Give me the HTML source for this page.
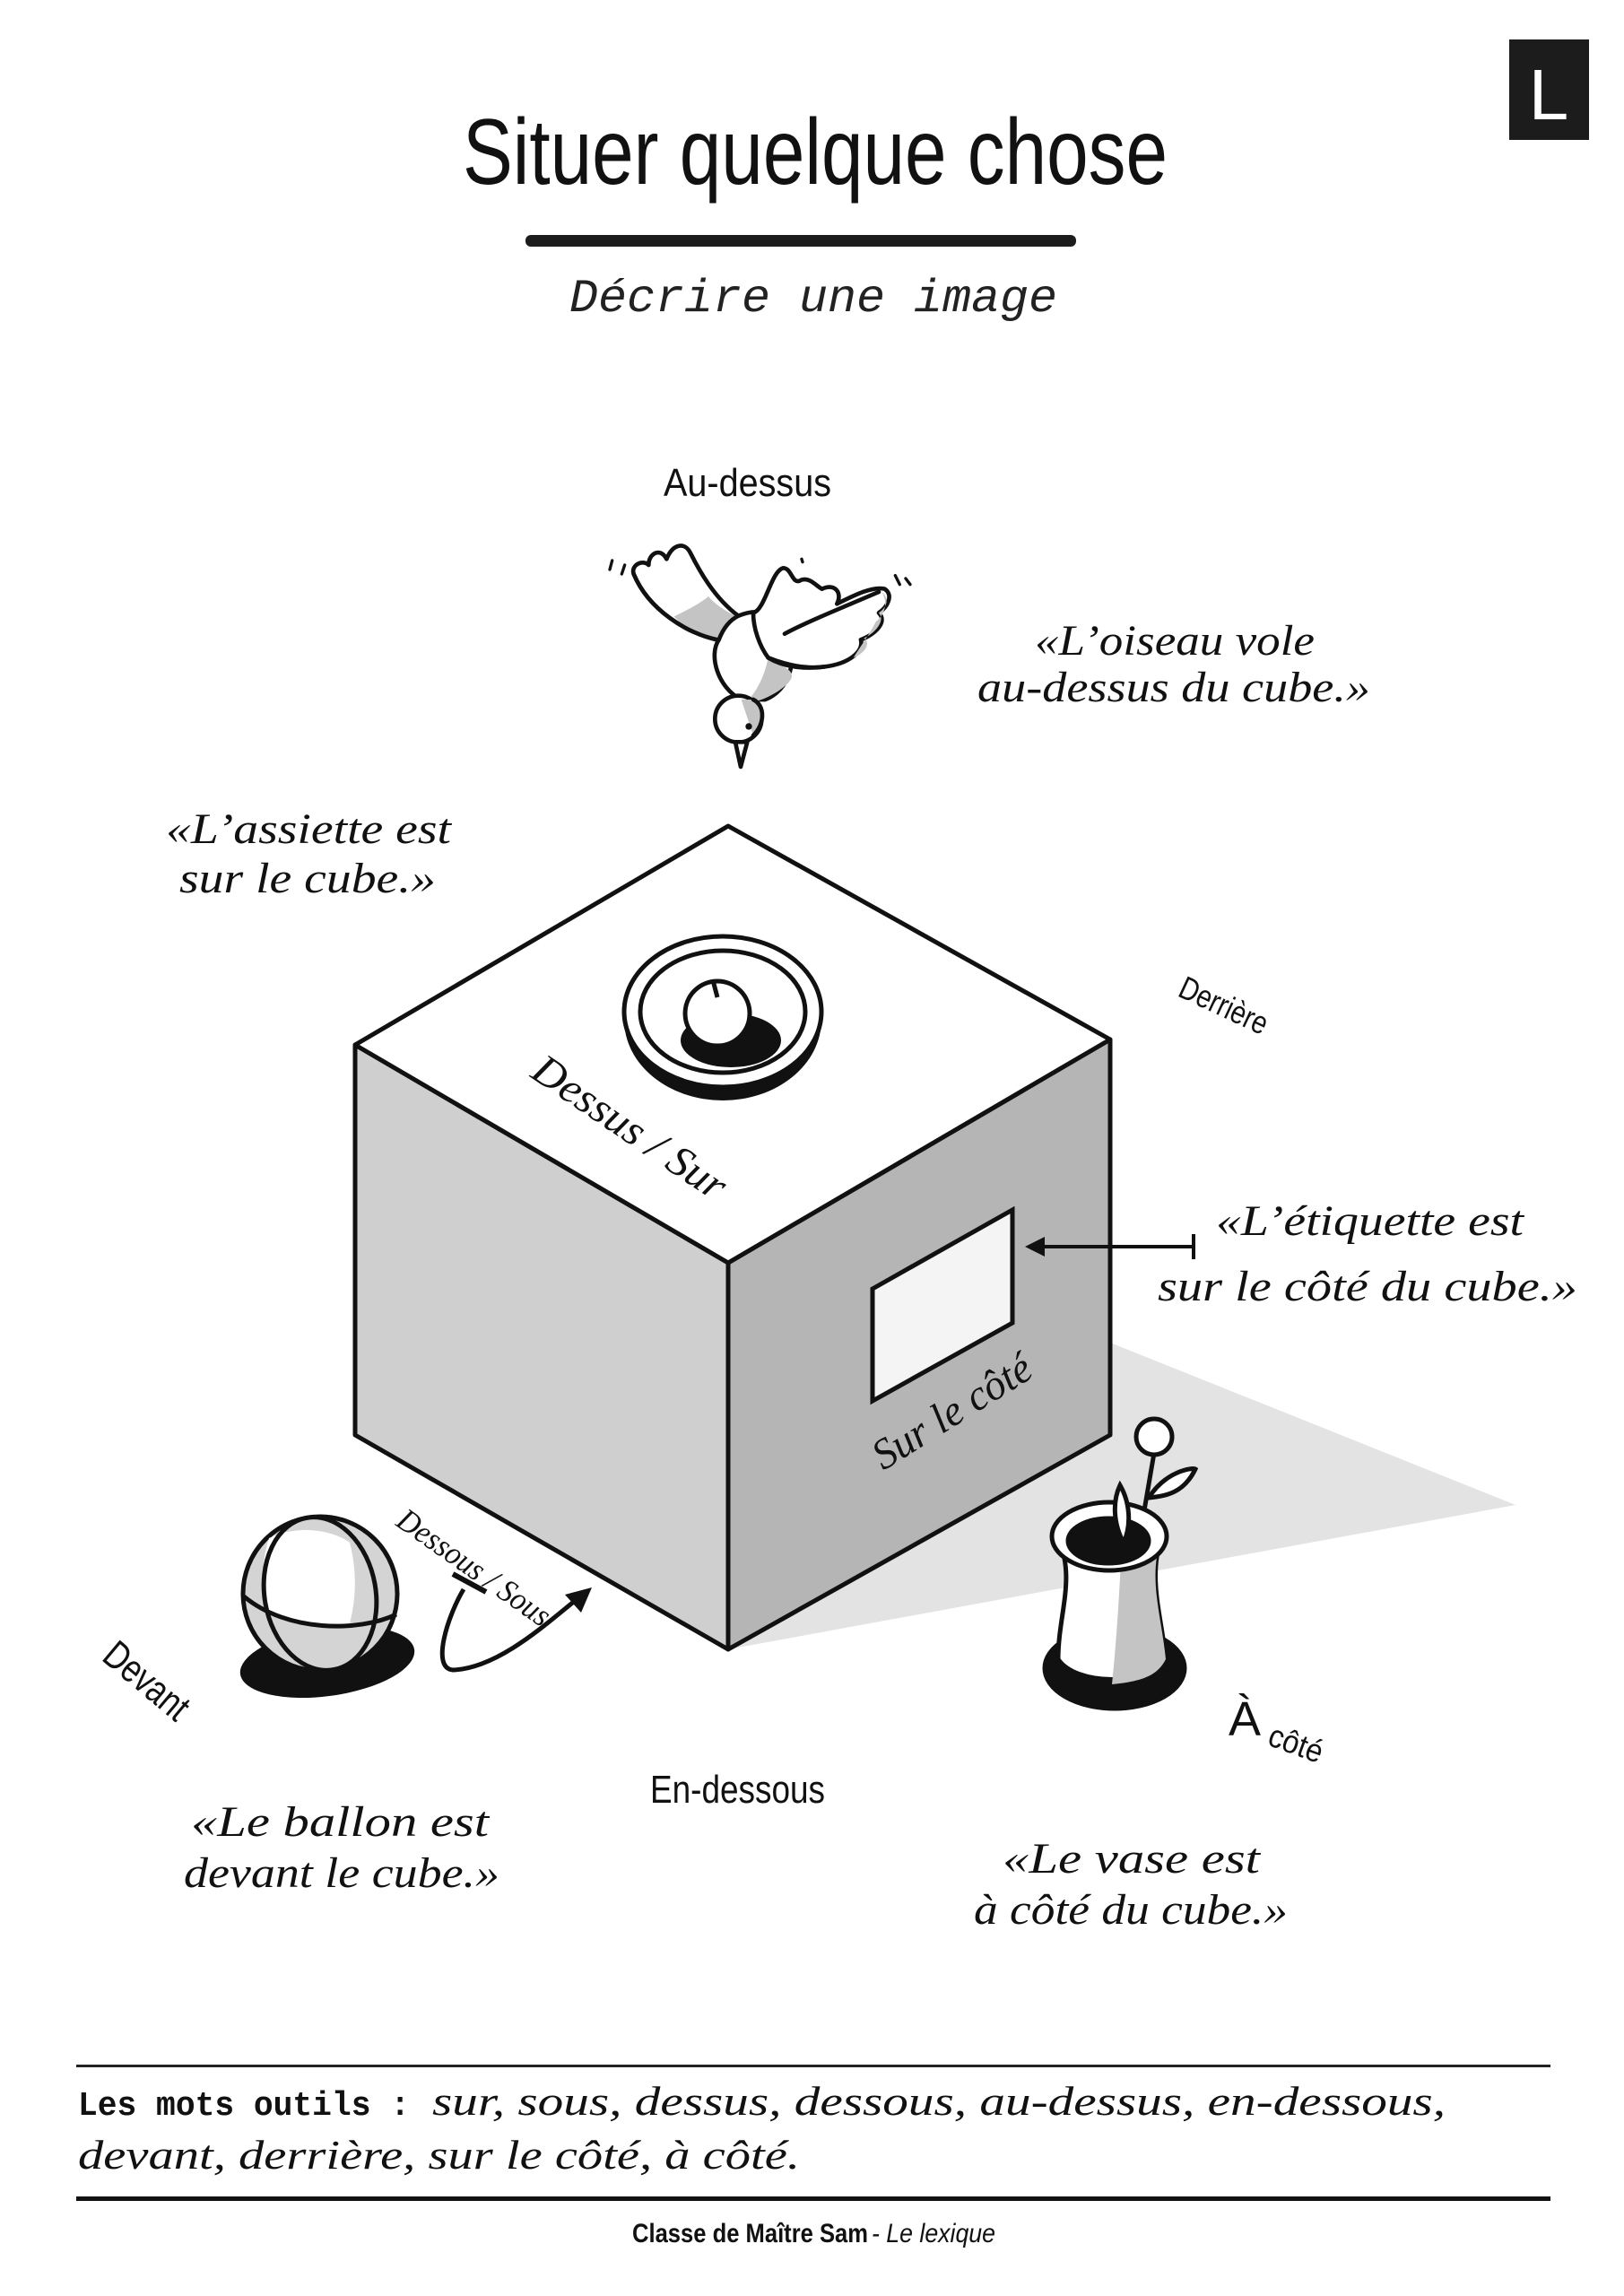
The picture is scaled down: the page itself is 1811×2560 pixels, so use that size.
<!DOCTYPE html>
<html><head><meta charset="utf-8"><style>
html,body{margin:0;padding:0;background:#fff;}
svg{display:block;}
.c{font-family:"Liberation Serif","DejaVu Serif",serif;font-style:italic;fill:#111;}
.s{font-family:"Liberation Sans",sans-serif;fill:#111;}
</style></head><body>
<svg width="1811" height="2560" viewBox="0 0 1811 2560" xmlns="http://www.w3.org/2000/svg">
<rect width="1811" height="2560" fill="#fff"/>
<rect x="1683" y="44" width="89" height="112" fill="#1c1c1c"/>
<text x="1727" y="133" class="s" font-size="80" style="fill:#fff" text-anchor="middle" font-weight="300">L</text>
<text x="516" y="205" class="s" font-size="104" textLength="786" lengthAdjust="spacingAndGlyphs">Situer quelque chose</text>
<rect x="586" y="262" width="614" height="13" rx="6" fill="#1c1c1c"/>
<text x="635" y="347" font-family="Liberation Mono,monospace" font-style="italic" font-size="52" fill="#222" textLength="544" lengthAdjust="spacingAndGlyphs">Décrire une image</text>

<text x="740" y="553" class="s" font-size="44" textLength="187" lengthAdjust="spacingAndGlyphs">Au-dessus</text>

<g transform="translate(640,580) scale(0.3333)" stroke="#111" stroke-width="14" stroke-linejoin="round" stroke-linecap="round">
 <path d="M480,400 C380,380 250,300 200,180 C190,150 230,130 250,150 C250,110 290,90 310,130 C330,80 370,70 390,110 C420,170 470,260 550,320 Z" fill="#fff"/>
 <path d="M335,322 C380,300 420,280 450,255 C480,290 520,310 545,322 L485,398 C420,390 370,360 335,322 Z" fill="#c4c4c4" stroke="none"/>
 <path d="M480,400 C380,380 250,300 200,180" fill="none"/>
 <path d="M550,320 C600,300 640,300 680,340 C760,420 740,560 640,600 L560,600 C480,560 450,450 485,400 C500,360 520,335 550,320 Z" fill="#fff"/>
 <path d="M650,460 C720,500 760,510 700,560 C660,590 630,600 600,610 L585,600 C620,560 640,510 650,460Z" fill="#c4c4c4" stroke="none"/>
 <circle cx="550" cy="665" r="78" fill="#fff"/>
 <path d="M600,600 C640,620 645,680 600,720 L560,600 Z" fill="#c4c4c4" stroke="none"/>
 <path d="M600,600 C640,620 640,680 600,720" fill="none"/>
 <path d="M540,742 L580,742 L558,825 Z" fill="#fff"/>
 <circle cx="585" cy="690" r="11" fill="#111" stroke="none"/>
 <path d="M600,310 C640,300 660,170 700,160 C730,160 730,220 760,200 C790,190 810,220 830,230 C870,210 900,240 880,280 C940,250 1000,220 1040,230 C1070,250 1050,290 1020,310 C1050,340 1010,380 960,400 C970,440 920,480 840,490 C770,500 700,480 650,460 C620,420 600,360 600,310 Z" fill="#fff"/>
 <path d="M1030,240 C1055,280 1035,320 1010,340 C990,380 960,420 935,460 C985,440 990,405 970,395 C1020,370 1040,330 1020,310 C1050,290 1055,260 1030,240 Z" fill="#c4c4c4" stroke="none"/>
 <path d="M705,380 C780,340 880,300 1020,240" fill="none"/>
 <path d="M650,460 C700,490 770,500 840,490" fill="none"/>
 <path d="M120,165 L128,135 M160,180 L170,150 M762,130 L765,140 M1075,185 L1090,215 M1110,195 L1125,215" fill="none" stroke-width="10"/>
</g>

<text x="1154" y="730" class="c" font-size="48" textLength="312" lengthAdjust="spacingAndGlyphs">«L’oiseau vole</text>
<text x="1090" y="782" class="c" font-size="48" textLength="438" lengthAdjust="spacingAndGlyphs">au-dessus du cube.»</text>
<text x="185" y="940" class="c" font-size="48" textLength="318" lengthAdjust="spacingAndGlyphs">«L’assiette est</text>
<text x="200" y="995" class="c" font-size="48" textLength="286" lengthAdjust="spacingAndGlyphs">sur le cube.»</text>

<polygon points="1238,1497 1690,1678 812,1839" fill="#e3e3e3"/>
<polygon points="396,1165 812,1408 812,1839 396,1600" fill="#cfcfcf" stroke="#111" stroke-width="5" stroke-linejoin="round"/>
<polygon points="812,1408 1238,1159 1238,1600 812,1839" fill="#b5b5b5" stroke="#111" stroke-width="5" stroke-linejoin="round"/>
<polygon points="812,921 1238,1159 812,1408 396,1165" fill="#fff" stroke="#111" stroke-width="5" stroke-linejoin="round"/>
<polygon points="973,1437 1129,1349 1129,1475 973,1562" fill="#f4f4f4" stroke="#111" stroke-width="5"/>
<ellipse cx="806" cy="1137" rx="110" ry="90" fill="#111"/>
<ellipse cx="806" cy="1128" rx="110" ry="84" fill="#fff" stroke="#111" stroke-width="5"/>
<ellipse cx="806" cy="1128" rx="92" ry="68" fill="#fff" stroke="#111" stroke-width="5"/>
<ellipse cx="815" cy="1160" rx="56" ry="30" fill="#111"/>
<circle cx="800" cy="1130" r="36" fill="#fff" stroke="#111" stroke-width="5"/>
<path d="M800,1112 L795,1093" stroke="#111" stroke-width="5" fill="none"/>

<text class="c" font-size="48" transform="translate(590,1200) rotate(34)" textLength="250" lengthAdjust="spacingAndGlyphs">Dessus / Sur</text>
<text class="c" font-size="48" transform="translate(985,1640) rotate(-32)" textLength="200" lengthAdjust="spacingAndGlyphs">Sur le côté</text>
<text class="s" font-size="36" transform="translate(1312,1110) rotate(25)" textLength="105" lengthAdjust="spacingAndGlyphs">Derrière</text>

<line x1="1331" y1="1390" x2="1160" y2="1390" stroke="#111" stroke-width="4"/>
<line x1="1331" y1="1376" x2="1331" y2="1404" stroke="#111" stroke-width="4"/>
<polygon points="1143,1390 1165,1379 1165,1401" fill="#111"/>
<text x="1356" y="1377" class="c" font-size="48" textLength="343" lengthAdjust="spacingAndGlyphs">«L’étiquette est</text>
<text x="1291" y="1450" class="c" font-size="48" textLength="468" lengthAdjust="spacingAndGlyphs">sur le côté du cube.»</text>

<ellipse cx="365" cy="1853" rx="98" ry="38" fill="#111" transform="rotate(-8 365 1853)"/>
<circle cx="357" cy="1777" r="86" fill="#d4d4d4" stroke="#111" stroke-width="5"/>
<path d="M300,1715 C330,1700 370,1705 390,1720 C400,1760 395,1790 390,1810 C360,1815 320,1810 300,1800 C290,1770 292,1740 300,1715Z" fill="#fff"/>
<ellipse cx="357" cy="1777" rx="62" ry="86" fill="none" stroke="#111" stroke-width="5" transform="rotate(-10 357 1777)"/>
<path d="M272,1780 C320,1820 400,1820 442,1800" fill="none" stroke="#111" stroke-width="5"/>
<text class="c" font-size="36" transform="translate(440,1700) rotate(35)" textLength="200" lengthAdjust="spacingAndGlyphs">Dessous / Sous</text>
<line x1="505" y1="1755" x2="542" y2="1775" stroke="#111" stroke-width="6"/>
<path d="M517,1772 C500,1800 480,1860 505,1862 C560,1860 620,1800 650,1778" fill="none" stroke="#111" stroke-width="5"/>
<polygon points="660,1770 630,1778 648,1798" fill="#111"/>

<g stroke="#111" stroke-width="5">
<line x1="1287" y1="1620" x2="1275" y2="1690"/>
<path d="M1281,1670 C1300,1640 1330,1636 1333,1638 C1320,1665 1300,1668 1281,1670Z" fill="#fff"/>
<circle cx="1287" cy="1602" r="20" fill="#fff"/>
<ellipse cx="1243" cy="1860" rx="78" ry="45" fill="#111"/>
<path d="M1180,1715 C1200,1760 1180,1800 1180,1850 C1200,1880 1280,1880 1300,1850 C1295,1800 1280,1760 1295,1715Z" fill="#fff"/>
<path d="M1250,1740 L1295,1715 C1280,1760 1295,1800 1300,1850 C1290,1870 1270,1875 1240,1878 C1245,1830 1248,1780 1250,1740Z" fill="#c4c4c4" stroke="none"/>
<ellipse cx="1237" cy="1713" rx="64" ry="38" fill="#fff"/>
<ellipse cx="1236" cy="1718" rx="45" ry="25" fill="#111"/>
<path d="M1249,1656 C1260,1675 1262,1700 1253,1720 C1242,1700 1240,1675 1249,1656Z" fill="#fff"/>
</g>

<text class="s" font-size="44" transform="translate(112,1850) rotate(40)" textLength="110" lengthAdjust="spacingAndGlyphs">Devant</text>
<text x="1370" y="1935" class="s" font-size="54">À</text>
<text class="s" font-size="36" transform="translate(1412,1945) rotate(20)" textLength="62" lengthAdjust="spacingAndGlyphs">côté</text>
<text x="725" y="2010" class="s" font-size="44" textLength="195" lengthAdjust="spacingAndGlyphs">En-dessous</text>

<text x="213" y="2047" class="c" font-size="48" textLength="332" lengthAdjust="spacingAndGlyphs">«Le ballon est</text>
<text x="205" y="2104" class="c" font-size="48" textLength="352" lengthAdjust="spacingAndGlyphs">devant le cube.»</text>
<text x="1118" y="2088" class="c" font-size="48" textLength="287" lengthAdjust="spacingAndGlyphs">«Le vase est</text>
<text x="1086" y="2145" class="c" font-size="48" textLength="350" lengthAdjust="spacingAndGlyphs">à côté du cube.»</text>

<rect x="85" y="2302" width="1644" height="3" fill="#222"/>
<text x="87" y="2358" font-family="Liberation Mono,monospace" font-weight="bold" font-size="38" fill="#111" textLength="370" lengthAdjust="spacingAndGlyphs">Les mots outils :</text>
<text x="482" y="2358" class="c" font-size="46" textLength="1130" lengthAdjust="spacingAndGlyphs">sur, sous, dessus, dessous, au-dessus, en-dessous,</text>
<text x="87" y="2418" class="c" font-size="46" textLength="805" lengthAdjust="spacingAndGlyphs">devant, derrière, sur le côté, à côté.</text>
<rect x="85" y="2449" width="1644" height="5" fill="#111"/>
<text x="705" y="2500" class="s" font-size="30" font-weight="bold" textLength="263" lengthAdjust="spacingAndGlyphs">Classe de Maître Sam</text>
<text x="972" y="2500" class="s" font-size="30" font-style="italic" textLength="138" lengthAdjust="spacingAndGlyphs">- Le lexique</text>
</svg>
</body></html>
